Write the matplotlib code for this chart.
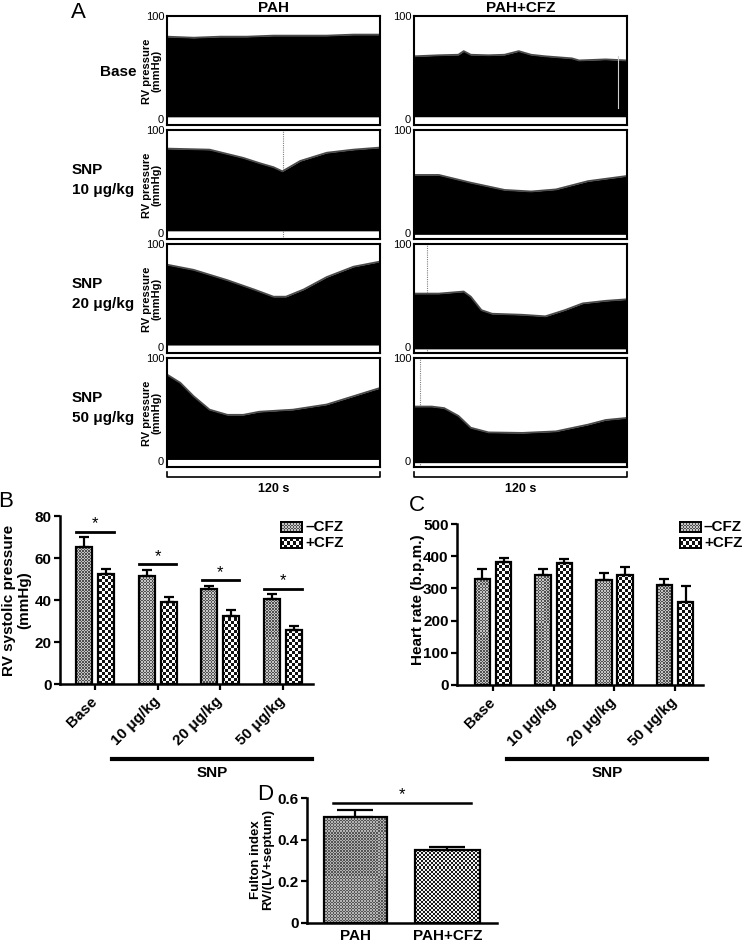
import numpy as np
import matplotlib.pyplot as plt
from matplotlib.lines import Line2D
from matplotlib.colors import to_rgb

plt.rcParams['font.family'] = ['Liberation Sans', 'DejaVu Sans']
plt.rcParams['font.weight'] = 'bold'
plt.rcParams['axes.labelweight'] = 'bold'

W, H = 750, 941

# ---- panel A: RV pressure traces, systolic envelope (mmHg)
row_labels = ['Base', 'SNP\n10 μg/kg', 'SNP\n20 μg/kg', 'SNP\n50 μg/kg']

pah_t = [[0, 15, 30, 45, 60, 75, 90, 105, 120],
         [0, 24, 43, 52, 60, 65, 71, 75, 90, 105, 120],
         [0, 15, 34, 49, 60, 67, 77, 90, 105, 120],
         [0, 7.5, 15, 24, 34, 43, 52, 71, 90, 105, 120]]
pah_top = [[80, 79, 80, 80, 81, 81, 81, 82, 82],
           [82, 81, 73, 68, 64, 60, 66, 70, 78, 81, 83],
           [80, 75, 65, 56, 49, 49, 56, 68, 78, 83],
           [84, 76, 63, 50, 45, 45, 48, 50, 55, 63, 71]]
pah_floor = [2.4, 2.4, 2.2, 1.8]
pah_inject = [None, 65.6, None, None]

cfz_t = [[0, 14, 25, 28, 32, 42, 51, 59, 66, 74, 89, 93, 108, 120],
         [0, 14, 32, 51, 66, 80, 98, 120],
         [0, 14, 28, 32, 38, 44, 61, 74, 85, 95, 108, 120],
         [0, 10, 17, 25, 32, 42, 61, 80, 98, 108, 120]]
cfz_top = [[61, 62, 62.5, 66, 62.5, 62, 62.5, 66, 62.5, 61, 59, 57, 58, 57],
           [56.5, 56.5, 49, 42, 40.5, 42.5, 50.5, 55.5],
           [52, 52, 54, 49, 36, 32.5, 31.5, 30, 36, 42.5, 45, 46.5],
           [53, 53, 51.5, 44, 32.5, 28, 27.5, 29, 35.5, 40, 42]]
cfz_floor = [2.5, -1.0, -1.5, -1.3]
cfz_inject = [None, None, 7.3, 3.6]

# ---- panels B, C, D
doses = ['Base', '10 μg/kg', '20 μg/kg', '50 μg/kg']
rvsp_minus = [65.2, 51.3, 45.2, 40.5]
rvsp_minus_err = [4.6, 3.0, 1.5, 2.2]
rvsp_plus = [52.2, 39.0, 32.6, 25.6]
rvsp_plus_err = [2.6, 2.4, 2.5, 1.9]

hr_minus = [330, 343, 326, 310]
hr_minus_err = [30, 18, 23, 18]
hr_plus = [382, 380, 343, 257]
hr_plus_err = [11, 11, 22, 50]

fulton_groups = ['PAH', 'PAH+CFZ']
fulton = [0.51, 0.35]
fulton_err = [0.034, 0.015]


def box(x0, y0, x1, y1):
    # pixel box (origin top-left) -> add_axes rect
    return [x0 / W, 1 - y1 / H, (x1 - x0) / W, (y1 - y0) / H]


def fx(px):
    return px / W


def fy(py):
    return 1 - py / H


def texture(ax, cell, c1, c2):
    nx = max(1, int(round(ax.bbox.width / cell)))
    ny = max(1, int(round(ax.bbox.height / cell)))
    ii, jj = np.indices((ny, nx))
    m = ((ii + jj) % 2)[..., None]
    return np.where(m == 1, np.array(to_rgb(c1)), np.array(to_rgb(c2)))


FINE = (1.5, '#505050', '#c4c4c4')
CHECK = (3, '#111111', '#ffffff')
FINE_D = (1.5, '#555555', '#b4b4b4')
CHECK_D = (2, '#1a1a1a', '#f4f4f4')


def textured_bars(ax, x, h, width, pat):
    bars = ax.bar(x, h, width, facecolor='none', edgecolor='black',
                  linewidth=1.6, zorder=3)
    x0, x1 = ax.get_xlim()
    y0, y1 = ax.get_ylim()
    tex = texture(ax, *pat)
    for b in bars:
        im = ax.imshow(tex, extent=(x0, x1, y0, y1), origin='lower',
                       interpolation='nearest', aspect='auto', zorder=2)
        im.set_clip_path(b)
    ax.set_xlim(x0, x1)
    ax.set_ylim(y0, y1)
    return bars


def swatch(fig, rect, pat):
    sa = fig.add_axes(rect)
    sa.imshow(texture(sa, *pat), interpolation='nearest', aspect='auto')
    sa.set_xticks([])
    sa.set_yticks([])
    for s in sa.spines.values():
        s.set_linewidth(1.4)


def style_bar_axes(ax):
    for s in ['top', 'right']:
        ax.spines[s].set_visible(False)
    for s in ['left', 'bottom']:
        ax.spines[s].set_linewidth(1.8)
    ax.tick_params(axis='both', length=4, width=1.6, labelsize=11, pad=2)


fig = plt.figure(figsize=(7.5, 9.41), dpi=100)

# ---------------- A
row_tops = [16, 130, 244, 358]
cols = [(167, 380, pah_t, pah_top, pah_floor, pah_inject, 'PAH'),
        (414, 627, cfz_t, cfz_top, cfz_floor, cfz_inject, 'PAH+CFZ')]
for ci, (x0, x1, tt, top, floor, inj, title) in enumerate(cols):
    for r in range(4):
        ax = fig.add_axes(box(x0, row_tops[r], x1, row_tops[r] + 109))
        ax.set_xlim(0, 120)
        ax.set_ylim(-5.5, 100)
        ax.fill_between(tt[r], floor[r], top[r], color='black', lw=0, zorder=2)
        ax.plot(tt[r], top[r], color='#4a4a4a', lw=1.3, zorder=2)
        if inj[r] is not None:
            ax.axvline(inj[r], color='#808080', ls=(0, (1, 1)), lw=0.8, zorder=1)
        if ci == 1 and r == 0:
            ax.plot([114.9, 114.9], [10.5, 61], color='#d0d0d0', lw=0.8, zorder=3)
        ax.set_xticks([])
        ax.set_yticks([0, 100])
        ax.set_yticklabels(['0', '100'], fontweight='normal')
        ax.tick_params(axis='y', length=0, pad=2, labelsize=8)
        for s in ax.spines.values():
            s.set_linewidth(1.5)
        if ci == 0:
            fig.text(fx(152), fy(row_tops[r] + 55), 'RV pressure\n(mmHg)',
                     rotation=90, ha='center', va='center', fontsize=8,
                     linespacing=1.0)
            if r == 0:
                fig.text(fx(118), fy(72), row_labels[r], ha='center',
                         va='center', fontsize=11)
            else:
                fig.text(fx(72), fy(row_tops[r] + 50), row_labels[r],
                         ha='left', va='center', fontsize=11, linespacing=1.5)
    xm = (x0 + x1) / 2
    fig.text(fx(xm), fy(8), title, ha='center', va='center', fontsize=11)
    fig.add_artist(Line2D([fx(x0), fx(x0), fx(x1), fx(x1)],
                          [fy(472), fy(477), fy(477), fy(472)],
                          color='black', lw=1.2))
    fig.text(fx(xm), fy(489), '120 s', ha='center', va='center', fontsize=9)

fig.text(fx(78), fy(12), 'A', ha='center', va='center', fontsize=16,
         fontweight='normal')

# ---------------- B and C
off, bw = 0.175, 0.255
x = np.arange(len(doses))
panels = [
    (box(60, 516, 313, 684), (-0.558, 3.477), (0, 80), np.arange(0, 81, 20),
     rvsp_minus, rvsp_minus_err, rvsp_plus, rvsp_plus_err,
     'RV systolic pressure\n(mmHg)', 17, 'B', (6, 502), (281, 305), (112, 312), True),
    (box(457, 524, 703, 685), (-0.593, 3.46), (0, 500), np.arange(0, 501, 100),
     hr_minus, hr_minus_err, hr_plus, hr_plus_err,
     'Heart rate (b.p.m.)', 418, 'C', (417, 506), (680, 704), (507, 707), False),
]
for (rect, xl, yl, yt, m, me, p, pe, ylab, ylx, letter, lpos,
     legx, snpx, sig) in panels:
    ax = fig.add_axes(rect)
    ax.set_xlim(*xl)
    ax.set_ylim(*yl)
    textured_bars(ax, x - off, m, bw, FINE)
    textured_bars(ax, x + off, p, bw, CHECK)
    ax.errorbar(x - off, m, yerr=[np.zeros(4), me], fmt='none', ecolor='black',
                elinewidth=1.6, capsize=3.5, capthick=1.6, zorder=4)
    ax.errorbar(x + off, p, yerr=[np.zeros(4), pe], fmt='none', ecolor='black',
                elinewidth=1.6, capsize=3.5, capthick=1.6, zorder=4)
    style_bar_axes(ax)
    ax.set_yticks(yt)
    ax.set_xticks(x)
    ax.set_xticklabels(doses, rotation=45, ha='right', va='center',
                       rotation_mode='anchor', fontsize=11)
    ax.tick_params(axis='x', pad=7)
    if sig:
        span = yl[1] - yl[0]
        for i in x:
            ys = max(m[i] + me[i], p[i] + pe[i]) + 0.034 * span
            ax.plot([i - 0.30, i + 0.30], [ys, ys], color='black', lw=2,
                    clip_on=False)
            ax.text(i, ys + 0.003 * span, '*', ha='center', va='bottom',
                    fontsize=12, fontweight='normal')
    fig.text(fx(ylx), fy(600), ylab, rotation=90, ha='center', va='center',
             fontsize=11, linespacing=1.1)
    fig.text(fx(lpos[0]), fy(lpos[1]), letter, ha='center', va='center',
             fontsize=16, fontweight='normal')
    for k, (lab, pat) in enumerate([('–CFZ', FINE), ('+CFZ', CHECK)]):
        yc = 527 + 16 * k
        swatch(fig, box(legx[0], yc - 5, legx[0] + 21, yc + 5), pat)
        fig.text(fx(legx[1]), fy(yc), lab, ha='left', va='center', fontsize=11)
    fig.add_artist(Line2D([fx(snpx[0]), fx(snpx[1])], [fy(759), fy(759)],
                          color='black', lw=3))
    fig.text(fx((snpx[0] + snpx[1]) / 2), fy(773), 'SNP', ha='center',
             va='center', fontsize=11)

# ---------------- D
ax = fig.add_axes(box(307, 798, 497, 923))
ax.set_xlim(-0.527, 1.538)
ax.set_ylim(0, 0.6)
xd = np.arange(len(fulton_groups))
textured_bars(ax, xd[:1], fulton[:1], 0.69, FINE_D)
textured_bars(ax, xd[1:], fulton[1:], 0.70, CHECK_D)
ax.errorbar(xd, fulton, yerr=[np.zeros(2), fulton_err], fmt='none',
            ecolor='black', elinewidth=1.6, capsize=13, capthick=1.6, zorder=4)
style_bar_axes(ax)
ax.set_yticks([0, 0.2, 0.4, 0.6])
ax.set_yticklabels(['0', '0.2', '0.4', '0.6'])
ax.set_xticks(xd)
ax.set_xticklabels(fulton_groups, fontsize=11)
ax.tick_params(axis='x', length=0, pad=4)
ys = max(np.add(fulton, fulton_err)) + 0.033
ax.plot([-0.245, 1.255], [ys, ys], color='black', lw=1.8, clip_on=False)
ax.text(0.505, ys + 0.003, '*', ha='center', va='bottom', fontsize=12,
        fontweight='normal', clip_on=False)
fig.text(fx(262), fy(860), 'Fulton index\nRV/(LV+septum)', rotation=90,
         ha='center', va='center', fontsize=9.5, linespacing=1.1)
fig.text(fx(265), fy(794), 'D', ha='center', va='center', fontsize=16,
         fontweight='normal')

fig.savefig('out.png', dpi=100)
